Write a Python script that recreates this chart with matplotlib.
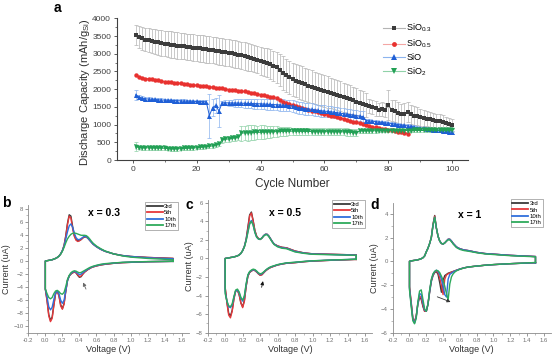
import numpy as np
import matplotlib
matplotlib.use('Agg')
import matplotlib.pyplot as plt
from matplotlib.lines import Line2D
from matplotlib.ticker import MultipleLocator, FormatStrFormatter

plt.rcParams['font.family'] = ['Liberation Sans', 'DejaVu Sans']
plt.rcParams['mathtext.default'] = 'regular'

# ---------------- panel a : discharge capacity per cycle ----------------
cycles = np.arange(1, 101)
sio03 = [3540, 3470, 3430, 3400, 3380, 3360, 3340, 3320, 3300, 3285,
         3270, 3260, 3245, 3230, 3220, 3210, 3200, 3185, 3175, 3160,
         3150, 3140, 3130, 3115, 3105, 3090, 3075, 3060, 3045, 3030,
         3010, 2995, 2975, 2955, 2935, 2910, 2890, 2865, 2835, 2800,
         2770, 2740, 2700, 2660, 2620, 2540, 2460, 2390, 2330, 2280,
         2240, 2200, 2170, 2135, 2100, 2070, 2040, 2010, 1980, 1950,
         1920, 1890, 1860, 1830, 1800, 1770, 1740, 1710, 1680, 1650,
         1615, 1580, 1545, 1520, 1490, 1455, 1420, 1440, 1400, 1560,
         1400, 1370, 1330, 1290, 1310, 1350, 1290, 1255, 1235, 1210,
         1190, 1170, 1150, 1130, 1110, 1090, 1070, 1045, 1020, 995]
sio03_err = [280, 300, 320, 330, 340, 350, 350, 360, 360, 360,
             370, 370, 370, 370, 370, 370, 370, 370, 370, 370,
             380, 380, 380, 380, 380, 380, 380, 380, 380, 380,
             390, 390, 390, 390, 390, 390, 390, 390, 390, 390,
             400, 410, 420, 430, 440, 460, 470, 470, 470, 470,
             470, 470, 470, 460, 460, 460, 450, 450, 450, 440,
             440, 430, 430, 420, 420, 410, 400, 400, 390, 380,
             370, 360, 340, 200, 190, 210, 190, 200, 200, 420,
             300, 310, 300, 280, 290, 280, 270, 260, 250, 240,
             230, 220, 215, 210, 200, 195, 190, 180, 175, 170]
sio05 = [2400, 2355, 2320, 2300, 2290, 2275, 2260, 2245, 2230, 2215,
         2205, 2195, 2185, 2175, 2165, 2155, 2145, 2130, 2120, 2105,
         2095, 2085, 2075, 2065, 2055, 2045, 2030, 2020, 2005, 1990,
         1980, 1970, 1960, 1945, 1935, 1920, 1900, 1885, 1865, 1845,
         1825, 1805, 1785, 1765, 1745, 1700, 1650, 1605, 1570, 1540,
         1515, 1490, 1465, 1440, 1415, 1390, 1370, 1345, 1320, 1300,
         1275, 1255, 1235, 1210, 1190, 1165, 1140, 1110, 1085, 1060,
         1035, 1010, 985, 960, 940, 920, 900, 880, 865, 850,
         835, 815, 800, 780, 760, 740]
sio = [1840, 1775, 1745, 1730, 1720, 1715, 1710, 1700, 1695, 1690,
       1685, 1680, 1678, 1675, 1670, 1665, 1662, 1658, 1655, 1652,
       1650, 1648, 1645, 1255, 1480, 1540, 1380, 1615, 1615, 1612,
       1610, 1608, 1606, 1604, 1600, 1598, 1595, 1592, 1590, 1585,
       1580, 1575, 1570, 1565, 1560, 1555, 1548, 1540, 1535, 1520,
       1495, 1470, 1460, 1450, 1440, 1430, 1415, 1400, 1390, 1380,
       1370, 1360, 1348, 1335, 1320, 1308, 1295, 1280, 1265, 1250,
       1240, 1225, 1115, 1105, 1095, 1085, 1068, 1060, 1050, 1040,
       1030, 1015, 1000, 985, 975, 965, 950, 935, 915, 900,
       890, 880, 870, 860, 850, 840, 830, 815, 800, 785]
sio_err = [150, 60, 50, 50, 45, 45, 45, 45, 45, 45,
           45, 45, 45, 45, 45, 45, 45, 45, 45, 45,
           45, 45, 45, 620, 250, 200, 450, 60, 70, 80,
           90, 100, 110, 120, 125, 130, 135, 140, 145, 150,
           150, 155, 155, 160, 160, 160, 165, 165, 165, 165,
           170, 170, 170, 170, 170, 170, 165, 165, 165, 165,
           160, 160, 160, 160, 155, 155, 155, 150, 150, 150,
           150, 150, 40, 40, 40, 40, 40, 40, 40, 40,
           40, 40, 40, 40, 40, 40, 40, 40, 40, 40,
           40, 40, 40, 40, 40, 40, 40, 40, 40, 40]
sio2 = [380, 350, 345, 345, 345, 340, 340, 335, 335, 330,
        320, 312, 315, 318, 320, 325, 330, 335, 340, 348,
        355, 365, 375, 385, 400, 420, 450, 570, 585, 595,
        610, 625, 640, 760, 765, 770, 775, 778, 780, 783,
        786, 790, 795, 798, 802, 805, 808, 810, 812, 815,
        812, 810, 808, 806, 805, 804, 803, 802, 801, 800,
        800, 799, 798, 797, 796, 795, 790, 780, 770, 765,
        820, 822, 824, 825, 826, 826, 827, 828, 828, 829,
        830, 830, 831, 831, 832, 832, 832, 833, 833, 833,
        834, 834, 834, 835, 835, 835, 835, 836, 836, 836]
sio2_err = [120, 50, 50, 50, 50, 50, 50, 50, 50, 50,
            50, 50, 50, 50, 50, 50, 50, 50, 50, 50,
            50, 50, 50, 50, 50, 50, 50, 80, 80, 80,
            80, 80, 80, 210, 200, 220, 210, 200, 190, 200,
            190, 180, 170, 160, 150, 140, 130, 120, 110, 100,
            100, 100, 100, 100, 100, 100, 100, 100, 100, 100,
            100, 100, 100, 100, 100, 100, 100, 100, 100, 100,
            50, 50, 50, 50, 50, 50, 50, 50, 50, 50,
            50, 50, 50, 50, 50, 50, 50, 50, 50, 50,
            50, 50, 50, 50, 50, 50, 50, 50, 50, 50]

# ---------------- panels b-d : cyclic voltammograms ----------------
volt = [0.00, 0.02, 0.04, 0.06, 0.08, 0.10, 0.12, 0.14, 0.16, 0.18,
        0.20, 0.22, 0.24, 0.26, 0.28, 0.30, 0.32, 0.34, 0.36, 0.38,
        0.40, 0.42, 0.44, 0.46, 0.48, 0.50, 0.52, 0.54, 0.56,
        0.60, 0.65, 0.70, 0.80, 0.90, 1.00, 1.20, 1.50]
cv_cycles = ['3rd', '5th', '10th', '17th']

# x = 0.3
up_b = [
    [0.0, 0.05, 0.1, 0.15, 0.2, 0.3, 0.4, 0.55, 0.75, 1.1,
     1.6, 2.4, 3.9, 5.8, 7.1, 6.9, 5.3, 3.9, 3.3, 3.1,
     3.15, 3.3, 3.55, 3.7, 3.7, 3.5, 3.2, 2.9, 2.6,
     2.2, 1.8, 1.5, 1.1, 0.85, 0.7, 0.55, 0.4],
    [0.0, 0.05, 0.1, 0.15, 0.2, 0.3, 0.4, 0.55, 0.75, 1.1,
     1.6, 2.4, 3.8, 5.6, 6.9, 6.6, 5.0, 3.8, 3.2, 3.0,
     3.1, 3.3, 3.55, 3.75, 3.7, 3.5, 3.2, 2.9, 2.6,
     2.2, 1.8, 1.5, 1.1, 0.85, 0.7, 0.55, 0.4],
    [0.0, 0.05, 0.1, 0.15, 0.2, 0.3, 0.4, 0.55, 0.75, 1.1,
     1.6, 2.3, 3.4, 4.5, 5.4, 5.7, 5.2, 4.3, 3.6, 3.3,
     3.3, 3.45, 3.65, 3.8, 3.75, 3.5, 3.2, 2.9, 2.6,
     2.2, 1.8, 1.5, 1.1, 0.85, 0.7, 0.5, 0.35],
    [0.0, 0.05, 0.1, 0.15, 0.2, 0.3, 0.4, 0.55, 0.75, 1.05,
     1.5, 2.1, 2.8, 3.4, 3.8, 4.1, 4.25, 4.3, 4.25, 4.15,
     4.05, 3.95, 3.95, 3.95, 3.9, 3.7, 3.4, 3.05, 2.75,
     2.3, 1.9, 1.55, 1.1, 0.8, 0.6, 0.4, 0.2]]
dn_b = [
    [-4.3, -6.0, -8.2, -9.1, -8.6, -6.7, -5.0, -4.6, -5.3, -6.7,
     -7.3, -6.5, -4.6, -3.0, -2.3, -2.0, -1.8, -1.7, -1.8, -2.2,
     -2.5, -2.4, -2.0, -1.7, -1.5, -1.3, -1.15, -1.0, -0.9,
     -0.75, -0.6, -0.5, -0.35, -0.25, -0.2, -0.1, -0.05],
    [-4.3, -6.1, -8.4, -9.3, -8.8, -6.8, -5.0, -4.6, -5.4, -6.9,
     -7.4, -6.6, -4.6, -3.0, -2.3, -2.0, -1.8, -1.7, -1.8, -2.1,
     -2.4, -2.3, -2.0, -1.7, -1.5, -1.3, -1.15, -1.0, -0.9,
     -0.75, -0.6, -0.5, -0.35, -0.25, -0.2, -0.1, -0.05],
    [-4.3, -5.5, -7.0, -7.5, -7.1, -5.9, -4.9, -4.6, -5.0, -6.0,
     -6.5, -6.0, -4.5, -3.0, -2.3, -1.9, -1.7, -1.6, -1.7, -1.9,
     -2.1, -2.0, -1.8, -1.6, -1.4, -1.25, -1.1, -0.95, -0.85,
     -0.7, -0.55, -0.45, -0.32, -0.22, -0.18, -0.1, -0.05],
    [-4.3, -5.0, -5.6, -5.8, -5.6, -5.0, -4.6, -4.5, -4.7, -5.0,
     -5.1, -4.8, -3.9, -2.8, -2.2, -1.8, -1.6, -1.5, -1.55, -1.7,
     -1.8, -1.75, -1.6, -1.45, -1.3, -1.15, -1.0, -0.9, -0.8,
     -0.65, -0.5, -0.4, -0.3, -0.2, -0.15, -0.08, -0.04]]

# x = 0.5
up_c = [
    [0.0, 0.03, 0.06, 0.1, 0.13, 0.17, 0.22, 0.28, 0.38, 0.55,
     0.85, 1.3, 2.1, 3.4, 4.7, 5.0, 4.1, 3.0, 2.4, 2.15,
     2.05, 2.2, 2.45, 2.6, 2.6, 2.4, 2.1, 1.8, 1.55,
     1.35, 1.2, 1.15, 0.8, 0.6, 0.5, 0.45, 0.38],
    [0.0, 0.03, 0.06, 0.1, 0.13, 0.17, 0.22, 0.28, 0.38, 0.55,
     0.85, 1.3, 2.0, 3.2, 4.6, 4.9, 4.0, 3.0, 2.4, 2.15,
     2.05, 2.2, 2.45, 2.6, 2.6, 2.4, 2.1, 1.8, 1.55,
     1.35, 1.2, 1.15, 0.8, 0.6, 0.5, 0.45, 0.38],
    [0.0, 0.03, 0.06, 0.1, 0.13, 0.17, 0.22, 0.28, 0.38, 0.55,
     0.85, 1.3, 2.0, 2.9, 3.8, 4.1, 3.6, 2.8, 2.3, 2.1,
     2.05, 2.2, 2.45, 2.6, 2.6, 2.4, 2.1, 1.8, 1.55,
     1.3, 1.15, 1.1, 0.75, 0.58, 0.48, 0.43, 0.36],
    [0.0, 0.03, 0.06, 0.1, 0.13, 0.17, 0.22, 0.28, 0.38, 0.55,
     0.85, 1.25, 1.9, 2.8, 3.7, 4.0, 3.6, 2.8, 2.3, 2.1,
     2.05, 2.2, 2.4, 2.55, 2.55, 2.35, 2.05, 1.75, 1.5,
     1.25, 1.1, 1.05, 0.7, 0.55, 0.45, 0.4, 0.34]]
dn_c = [
    [-3.2, -4.7, -5.9, -6.2, -5.6, -4.3, -3.5, -3.4, -3.9, -4.8,
     -5.2, -4.5, -3.0, -1.9, -1.5, -1.35, -1.25, -1.3, -1.45, -1.65,
     -1.8, -1.75, -1.55, -1.35, -1.2, -1.07, -0.97, -0.9, -0.83,
     -0.7, -0.6, -0.52, -0.45, -0.35, -0.28, -0.2, -0.1],
    [-3.1, -4.8, -6.1, -6.4, -5.7, -4.4, -3.5, -3.4, -3.9, -4.8,
     -5.3, -4.6, -3.0, -1.9, -1.5, -1.35, -1.25, -1.3, -1.45, -1.65,
     -1.8, -1.75, -1.55, -1.35, -1.2, -1.07, -0.97, -0.9, -0.83,
     -0.7, -0.6, -0.52, -0.45, -0.35, -0.28, -0.2, -0.1],
    [-3.6, -4.6, -5.2, -5.3, -5.0, -4.2, -3.5, -3.4, -3.7, -4.3,
     -4.6, -4.1, -2.8, -1.8, -1.45, -1.3, -1.2, -1.25, -1.4, -1.6,
     -1.7, -1.65, -1.5, -1.3, -1.15, -1.02, -0.93, -0.86, -0.8,
     -0.68, -0.58, -0.5, -0.42, -0.33, -0.26, -0.18, -0.08],
    [-3.8, -4.6, -5.1, -5.2, -4.9, -4.1, -3.4, -3.3, -3.6, -4.2,
     -4.5, -4.0, -2.7, -1.75, -1.4, -1.25, -1.15, -1.2, -1.35, -1.55,
     -1.65, -1.6, -1.45, -1.28, -1.12, -1.0, -0.9, -0.84, -0.78,
     -0.66, -0.56, -0.48, -0.4, -0.32, -0.25, -0.17, -0.08]]

# x = 1
up_d = [
    [0.0, 0.03, 0.06, 0.08, 0.1, 0.13, 0.17, 0.22, 0.3, 0.45,
     0.8, 1.1, 1.5, 2.0, 3.1, 3.85, 2.8, 2.1, 1.7, 1.5,
     1.45, 1.55, 1.7, 1.85, 1.85, 1.7, 1.5, 1.35, 1.2,
     1.05, 0.95, 0.9, 0.75, 0.65, 0.6, 0.5, 0.4],
    [0.0, 0.03, 0.06, 0.08, 0.1, 0.13, 0.17, 0.22, 0.3, 0.45,
     0.8, 1.1, 1.5, 2.0, 3.1, 3.8, 2.8, 2.1, 1.7, 1.5,
     1.45, 1.55, 1.7, 1.85, 1.85, 1.7, 1.5, 1.35, 1.2,
     1.05, 0.95, 0.9, 0.75, 0.65, 0.6, 0.5, 0.4],
    [0.0, 0.03, 0.06, 0.08, 0.1, 0.13, 0.17, 0.22, 0.3, 0.45,
     0.8, 1.1, 1.5, 2.0, 3.0, 3.7, 2.8, 2.1, 1.7, 1.5,
     1.45, 1.55, 1.7, 1.85, 1.85, 1.7, 1.5, 1.35, 1.2,
     1.05, 0.95, 0.9, 0.75, 0.65, 0.6, 0.5, 0.4],
    [0.0, 0.03, 0.06, 0.08, 0.1, 0.13, 0.17, 0.22, 0.3, 0.45,
     0.8, 1.1, 1.5, 2.0, 3.0, 3.7, 2.8, 2.1, 1.7, 1.5,
     1.45, 1.55, 1.7, 1.8, 1.8, 1.65, 1.45, 1.3, 1.15,
     1.0, 0.9, 0.85, 0.72, 0.62, 0.57, 0.47, 0.38]]
dn_d = [
    [-2.2, -3.5, -4.8, -5.1, -4.6, -3.6, -3.0, -3.2, -3.8, -4.2,
     -4.2, -3.6, -2.6, -1.7, -1.2, -0.95, -0.85, -1.1, -1.8, -2.6,
     -1.6, -1.2, -1.1, -1.0, -0.95, -0.9, -0.85, -0.8, -0.75,
     -0.65, -0.55, -0.48, -0.4, -0.33, -0.28, -0.2, -0.12],
    [-2.1, -3.4, -4.8, -5.1, -4.6, -3.5, -2.9, -3.1, -3.7, -4.2,
     -4.2, -3.6, -2.5, -1.6, -1.15, -0.9, -0.8, -0.95, -1.4, -2.0,
     -2.8, -1.5, -1.15, -1.05, -0.98, -0.92, -0.86, -0.8, -0.75,
     -0.65, -0.55, -0.48, -0.4, -0.33, -0.28, -0.2, -0.12],
    [-2.3, -3.6, -4.9, -5.2, -4.7, -3.5, -2.7, -2.8, -3.5, -4.1,
     -4.2, -3.6, -2.5, -1.6, -1.1, -0.85, -0.75, -0.85, -1.1, -1.5,
     -2.1, -2.8, -3.0, -1.5, -1.1, -1.0, -0.9, -0.82, -0.76,
     -0.65, -0.55, -0.48, -0.4, -0.33, -0.28, -0.2, -0.12],
    [-2.4, -3.8, -5.0, -5.25, -4.8, -3.4, -2.5, -2.4, -3.2, -4.0,
     -4.2, -3.6, -2.4, -1.5, -1.05, -0.85, -0.75, -0.8, -0.95, -1.25,
     -1.6, -2.1, -2.7, -3.25, -1.9, -1.3, -1.05, -0.9, -0.8,
     -0.67, -0.56, -0.48, -0.4, -0.33, -0.27, -0.2, -0.1]]

W, H = 554, 355
fig = plt.figure(figsize=(W / 100, H / 100), dpi=100)


def px_axes(left, top, right, bottom):
    return fig.add_axes([left / W, 1 - bottom / H, (right - left) / W, (bottom - top) / H])


# ---- panel a ----
ax = px_axes(116.7, 18.3, 468.3, 160)
series = [
    (sio03, sio03_err, 's', '#3c3c3c', '#b4b4b4', 3.0, 'SiO$_{0.3}$'),
    (sio05, None, 'o', '#e8312f', '#f4a6a4', 3.2, 'SiO$_{0.5}$'),
    (sio, sio_err, '^', '#1f5fd6', '#8cb4ee', 3.6, 'SiO'),
    (sio2, sio2_err, 'v', '#22a055', '#90d2a8', 3.6, 'SiO$_2$'),
]
handles = []
for vals, err, mk, col, light, ms, lab in series:
    x = cycles[:len(vals)]
    if err is not None:
        ax.errorbar(x, vals, yerr=err, fmt='none', ecolor=light, elinewidth=0.5,
                    capsize=1.4, capthick=0.5, zorder=1)
for vals, err, mk, col, light, ms, lab in series:
    x = cycles[:len(vals)]
    ax.plot(x, vals, color=col, lw=0.7, marker=mk, ms=ms, mew=0, zorder=3)
    handles.append(Line2D([], [], color=light, lw=0.8, marker=mk, ms=ms + 0.3,
                          mfc=col, mec=col, mew=0, label=lab))

ax.set_xlim(-5, 105)
ax.set_ylim(0, 4000)
ax.xaxis.set_major_locator(MultipleLocator(20))
ax.xaxis.set_minor_locator(MultipleLocator(10))
ax.yaxis.set_major_locator(MultipleLocator(500))
ax.yaxis.set_minor_locator(MultipleLocator(250))
for s in ['top', 'right']:
    ax.spines[s].set_visible(False)
for s in ['left', 'bottom']:
    ax.spines[s].set_color('#404040')
    ax.spines[s].set_linewidth(0.8)
ax.tick_params(which='major', direction='out', length=2.5, width=0.6, pad=1.5,
               labelsize=6, colors='#404040')
ax.tick_params(which='minor', direction='out', length=1.5, width=0.5, colors='#404040')
ax.set_ylabel('Discharge Capacity (mAh/g$_{Si}$)', fontsize=8, color='#303030')
ax.yaxis.set_label_coords(-0.090, 0.48)
ax.yaxis.label.set_va('center')
ax.set_xlabel('Cycle Number', fontsize=8.5, color='#303030')
ax.xaxis.set_label_coords(0.5, -0.169)
ax.xaxis.label.set_va('center')
ax.legend(handles=handles, loc='upper left', bbox_to_anchor=(383 / W, 1 - 22 / H),
          bbox_transform=fig.transFigure, frameon=False, fontsize=6.5,
          handlelength=2.4, handletextpad=0.2, labelspacing=0.35, borderpad=0,
          borderaxespad=0)
fig.text(57 / W, 1 - 8 / H, 'a', fontsize=10, fontweight='bold', ha='center', va='center')

# ---- panels b, c, d ----
cv_colors = ['#3a3a3a', '#e5383b', '#2f6fdc', '#2eaa5c']
panels = [
    ('b', 'x = 0.3', up_b, dn_b, (28.3, 205, 188.5, 332.7), (-11.0, 8.6), (-10, 8),
     (6, 203), (104, 213), (0.934, 1.023), -0.139,
     ((0.43, -2.9), (0.49, -4.7), '#666666')),
    ('c', 'x = 0.5', up_c, dn_c, (207.7, 200, 372, 332.7), (-8, 6.3), (-8, 6),
     (189, 205), (285, 213), (0.957, 1.0), -0.108,
     ((0.44, -2.15), (0.41, -3.4), '#111111')),
    ('d', 'x = 1', up_d, dn_d, (392.7, 203, 550.6, 332.7), (-6, 4.9), (-6, 4),
     (375, 205), (470, 215), (0.954, 1.029), -0.118,
     ((0.52, -3.5), (0.30, -2.9), '#333333')),
]
v = np.array(volt)
for (letter, title, ups, dns, box, ylim, yt, lpos, tpos, legpos, ylx, arrow) in panels:
    ax = px_axes(*box)
    for up, dn, col, lab in zip(ups, dns, cv_colors, cv_cycles):
        xs = np.r_[v[::-1], v, v[-1]]
        ys = np.r_[np.array(dn)[::-1], up, dn[-1]]
        ax.plot(xs, ys, color=col, lw=1.0, label=lab)
    ax.set_xlim(-0.2, 1.68)
    ax.set_ylim(*ylim)
    ax.set_xticks(np.arange(-0.2, 1.61, 0.2))
    ax.xaxis.set_minor_locator(MultipleLocator(0.1))
    ax.xaxis.set_major_formatter(FormatStrFormatter('%.1f'))
    ax.set_yticks(np.arange(yt[0], yt[1] + 1, 2))
    ax.yaxis.set_minor_locator(MultipleLocator(1))
    for s in ['top', 'right']:
        ax.spines[s].set_visible(False)
    for s in ['left', 'bottom']:
        ax.spines[s].set_color('#8a8a8a')
        ax.spines[s].set_linewidth(0.6)
    ax.tick_params(which='major', direction='out', length=2, width=0.5, pad=1.5,
                   labelsize=4.3, colors='#707070')
    ax.tick_params(which='minor', direction='out', length=1.2, width=0.4, colors='#8a8a8a')
    ax.set_xlabel('Voltage (V)', fontsize=6.5, color='#333333')
    ax.xaxis.set_label_coords(0.5, (332.7 - 350) / (box[3] - box[1]))
    ax.xaxis.label.set_va('center')
    ax.set_ylabel('Current (uA)', fontsize=6.5, color='#333333')
    ax.yaxis.set_label_coords(ylx, 0.5)
    ax.yaxis.label.set_va('center')
    leg = ax.legend(loc='upper right', bbox_to_anchor=legpos, borderaxespad=0,
                    fontsize=4.3, handlelength=2.7, handletextpad=0.2,
                    labelspacing=0.2, borderpad=0.3, fancybox=False)
    leg.get_frame().set_edgecolor('#777777')
    leg.get_frame().set_linewidth(0.5)
    for ln in leg.get_lines():
        ln.set_linewidth(1.3)
    head, tail, acol = arrow
    ax.annotate('', xy=head, xytext=tail,
                arrowprops=dict(arrowstyle='-|>', color=acol, lw=0.6, mutation_scale=5))
    fig.text(lpos[0] / W, 1 - lpos[1] / H, letter, fontsize=10, fontweight='bold',
             ha='center', va='center')
    fig.text(tpos[0] / W, 1 - tpos[1] / H, title, fontsize=7.5, fontweight='bold',
             ha='center', va='center')

fig.savefig('out.png', dpi=100)
